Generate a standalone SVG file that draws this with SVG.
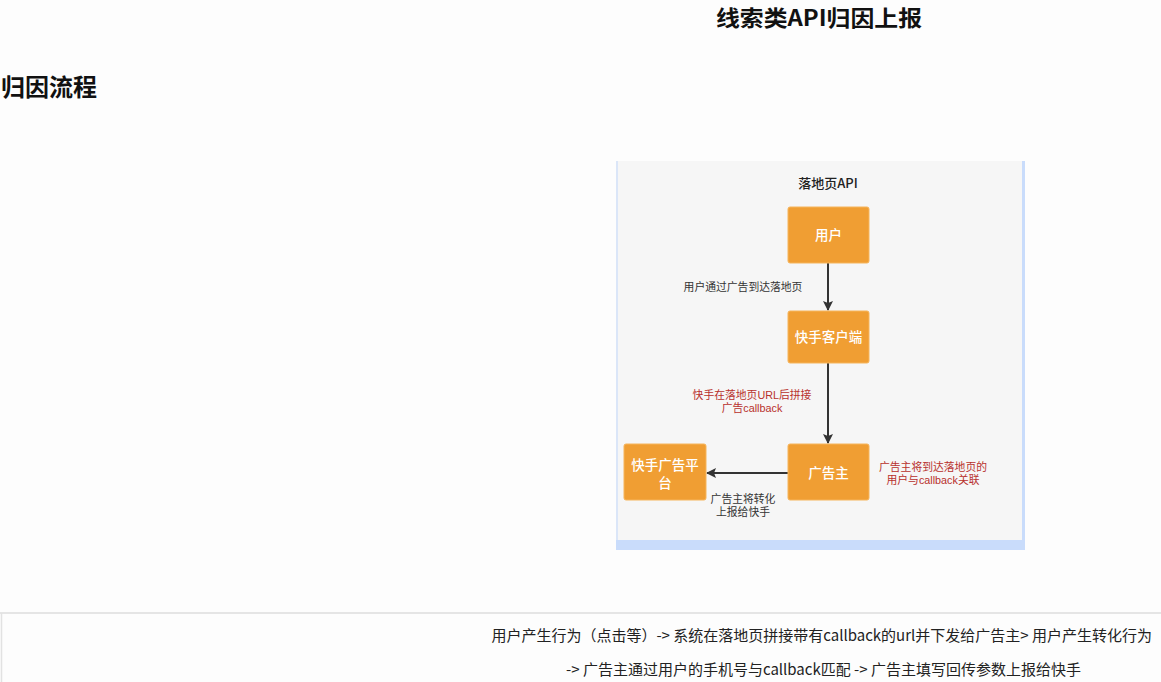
<svg xmlns="http://www.w3.org/2000/svg" width="1161" height="682" viewBox="0 0 1161 682">
  <defs>
    <style>
      text { font-family: "Noto Sans CJK SC", "Liberation Sans", sans-serif; }
      .node rect { fill: #f09e33; stroke: #f6b55c; stroke-width: 1; }
      .node text { fill: #ffffff; font-size: 13.5px; font-weight: 500; text-anchor: middle; }
      .lbl { fill: #333333; font-size: 10.8px; text-anchor: middle; }
      .red { fill: #b8302c; font-size: 10.8px; text-anchor: middle; }
      .two { font-family: "Liberation Sans", "Noto Sans CJK SC", sans-serif; }
      .conn { stroke: #333333; stroke-width: 2; fill: none; marker-end: url(#arr); }
    </style>
    <marker id="arr" viewBox="0 0 10 10" refX="9" refY="5" markerWidth="5" markerHeight="5" orient="auto" markerUnits="strokeWidth">
      <path d="M0,0 L10,5 L0,10 L2,5 z" fill="#333333"/>
    </marker>
  </defs>

  <rect x="0" y="0" width="1161" height="682" fill="#fdfdfd"/>

  <text x="716" y="26" font-size="22" font-weight="bold" fill="#111111" textLength="206" lengthAdjust="spacingAndGlyphs">线索类API归因上报</text>
  <text x="1" y="96" font-size="24" font-weight="bold" fill="#111111">归因流程</text>

  <!-- panel -->
  <g id="panel">
    <rect x="617" y="161" width="407" height="388" fill="#f6f6f6"/>
    <rect x="616" y="161" width="2" height="388" fill="#dbe6f8"/>
    <rect x="1022" y="161" width="3" height="388" fill="#c9dcfb"/>
    <rect x="616" y="540" width="409" height="10" fill="#c9dcfb"/>
    <text x="828" y="188" font-size="13" font-weight="500" fill="#222222" text-anchor="middle">落地页API</text>
  </g>

  <g id="connectors">
    <line class="conn" x1="828" y1="263" x2="828" y2="310"/>
    <line class="conn" x1="828" y1="363" x2="828" y2="443"/>
    <line class="conn" x1="788" y1="473" x2="707" y2="473"/>
  </g>

  <g id="labels">
    <text class="lbl" x="743" y="291">用户通过广告到达落地页</text>
    <text class="red two" x="752" y="399">快手在落地页URL后拼接<tspan x="752" dy="13">广告callback</tspan></text>
    <text class="red two" x="933" y="471">广告主将到达落地页的<tspan x="933" dy="13">用户与callback关联</tspan></text>
    <text class="lbl two" x="743" y="503">广告主将转化<tspan x="743" dy="13">上报给快手</tspan></text>
  </g>

  <g id="node-user" class="node">
    <rect x="788" y="207" width="81" height="56" rx="2"/>
    <text x="828.5" y="240">用户</text>
  </g>
  <g id="node-client" class="node">
    <rect x="788" y="311" width="81" height="52" rx="2"/>
    <text x="828.5" y="342">快手客户端</text>
  </g>
  <g id="node-advertiser" class="node">
    <rect x="788" y="444" width="81" height="56" rx="2"/>
    <text x="828.5" y="478">广告主</text>
  </g>
  <g id="node-platform" class="node">
    <rect x="624" y="444" width="82" height="56" rx="2"/>
    <text x="665" y="470">快手广告平<tspan x="665" dy="18">台</tspan></text>
  </g>

  <!-- bottom text box -->
  <g id="note">
    <line x1="0" y1="613" x2="1161" y2="613" stroke="#dddddd" stroke-width="1.5"/>
    <line x1="1.5" y1="613" x2="1.5" y2="682" stroke="#e2e2e2" stroke-width="1.5"/>
    <text x="1152" y="641" font-size="15" fill="#222222" text-anchor="end">用户产生行为（点击等）-&gt; 系统在落地页拼接带有callback的url并下发给广告主&gt; 用户产生转化行为</text>
    <text x="1081" y="675" font-size="15" fill="#222222" text-anchor="end">-&gt; 广告主通过用户的手机号与callback匹配 -&gt; 广告主填写回传参数上报给快手</text>
  </g>
</svg>
